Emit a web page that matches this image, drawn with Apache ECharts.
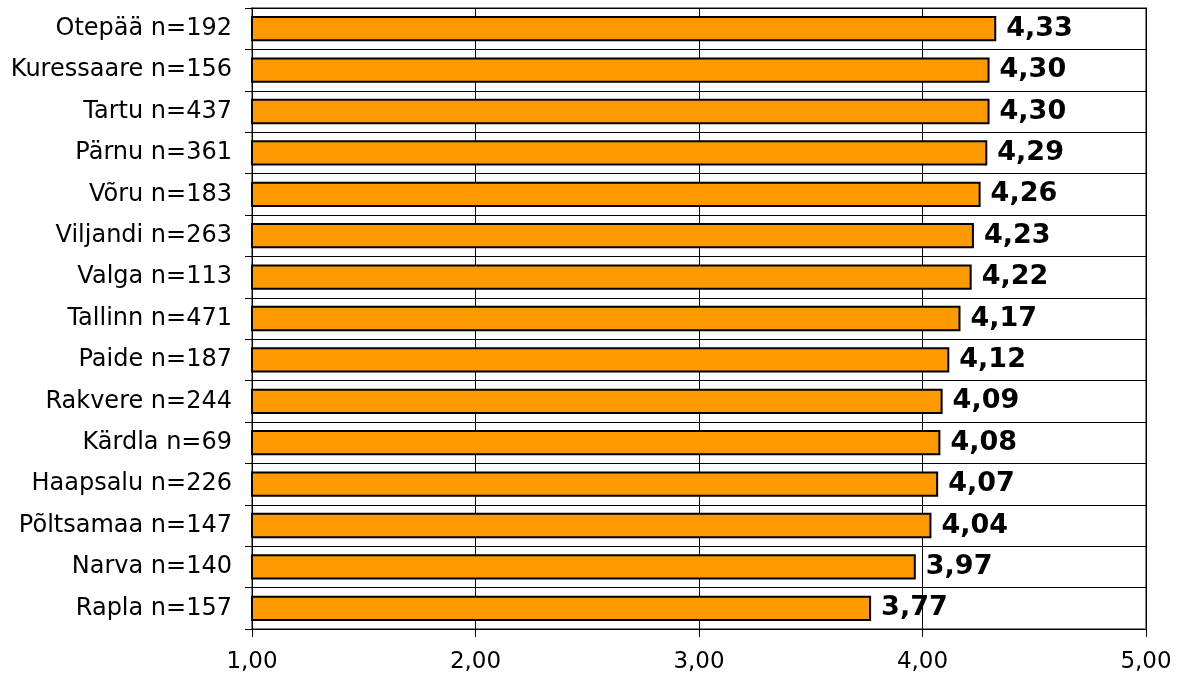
<!DOCTYPE html>
<html>
<head>
<meta charset="utf-8">
<script src="https://cdn.jsdelivr.net/npm/echarts@6/dist/echarts.min.js"></script>
<style>
  html, body { margin: 0; padding: 0; background: #fff; }
  #chart { width: 1177px; height: 680px; }
</style>
</head>
<body>
<div id="chart"></div>
<script>
/* ===== data ===== */
const towns = ["Otepää n=192", "Kuressaare n=156", "Tartu n=437", "Pärnu n=361", "Võru n=183",
  "Viljandi n=263", "Valga n=113", "Tallinn n=471", "Paide n=187", "Rakvere n=244",
  "Kärdla n=69", "Haapsalu n=226", "Põltsamaa n=147", "Narva n=140", "Rapla n=157"];
const scores = [4.33, 4.30, 4.30, 4.29, 4.26, 4.23, 4.22, 4.17, 4.12, 4.09, 4.08, 4.07, 4.04, 3.97, 3.77];

const comma = (v) => v.toFixed(2).replace(".", ",");

const chart = echarts.init(document.getElementById("chart"));
chart.setOption({
  animation: false,
  textStyle: { fontFamily: "DejaVu Sans" },
  grid: {
    left: 252, right: 31, top: 8, bottom: 51,
    show: true, borderColor: "#888", borderWidth: 2, backgroundColor: "#fff"
  },
  xAxis: {
    type: "value",
    min: 1, max: 5, interval: 1,
    axisLine: { show: true, lineStyle: { color: "#000", width: 1 } },
    axisTick: { show: true, length: 8, lineStyle: { color: "#000" } },
    axisLabel: { color: "#000", fontSize: 23, margin: 22, formatter: (v) => comma(v) },
    splitLine: { show: true, lineStyle: { color: "#000", width: 1 } }
  },
  yAxis: {
    type: "category",
    data: towns,
    inverse: true,
    axisLine: { show: true, lineStyle: { color: "#000", width: 1 } },
    axisTick: { show: true, length: 7, lineStyle: { color: "#000" } },
    axisLabel: { color: "#000", fontSize: 24, margin: 20 },
    splitLine: { show: true, lineStyle: { color: "#000", width: 1 } }
  },
  series: [
    {
      type: "bar",
      data: scores,
      barWidth: "61%",
      itemStyle: { color: "#FF9900", borderColor: "#000", borderWidth: 2 },
      label: {
        show: true,
        position: "right",
        distance: 10,
        color: "#000",
        fontSize: 27,
        fontWeight: "bold",
        formatter: (p) => comma(p.value)
      }
    }
  ]
});
</script>
</body>
</html>
